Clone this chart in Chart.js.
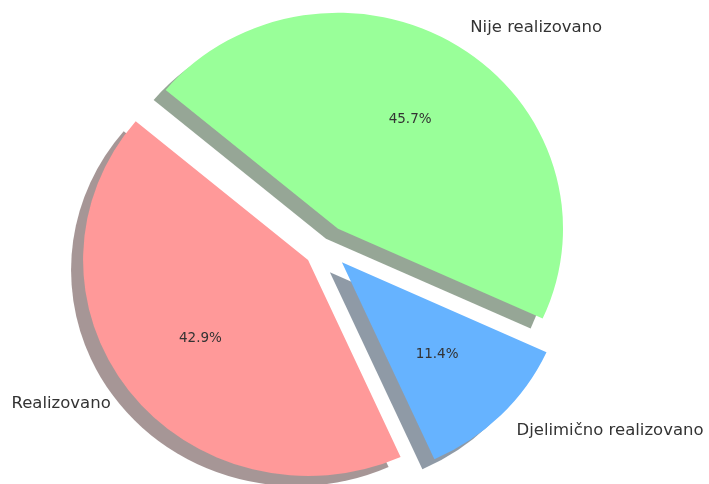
<!DOCTYPE html>
<html>
<head>
<meta charset="utf-8">
<script src="https://cdn.jsdelivr.net/npm/chart.js@4"></script>
<style>
  html, body { margin: 0; padding: 0; background: #fff; }
  canvas { display: block; }
</style>
</head>
<body>
<canvas id="chartPie" width="709" height="484"></canvas>
<script>
// Datos (en sentido horario, empezando arriba a la izquierda)
const categorias = ['Nije realizovano', 'Djelimično realizovano', 'Realizovano'];
const valores = [16, 4, 15];
const colores = ['#99ff99', '#66b3ff', '#ff9999'];

const RADIO = 225;           // radio horizontal en px
const ESCALA_Y = 216 / 225;  // la tarta sale algo achatada
const EXPLODE = 0.1;
const SOMBRA = { x: -12, y: 10 };

function centro(chart) {
    const a = chart.chartArea;
    return { x: (a.left + a.right) / 2, y: (a.top + a.bottom) / 2 };
}

function aplicarElipse(ctx, c) {
    ctx.translate(c.x, c.y);
    ctx.scale(1, ESCALA_Y);
    ctx.translate(-c.x, -c.y);
}

// Sombra: color oscurecido con transparencia
function colorSombra(hex) {
    const n = parseInt(hex.slice(1), 16);
    const r = (n >> 16) & 255, g = (n >> 8) & 255, b = n & 255;
    return `rgba(${Math.round(r * 0.3)}, ${Math.round(g * 0.3)}, ${Math.round(b * 0.3)}, 0.5)`;
}

const pluginTarta = {
    id: 'tartaSeparada',
    afterUpdate(chart) {
        // Separar cada porción del centro
        const c = centro(chart);
        chart.getDatasetMeta(0).data.forEach(arc => {
            const mid = (arc.startAngle + arc.endAngle) / 2;
            arc.x = c.x + Math.cos(mid) * EXPLODE * arc.outerRadius;
            arc.y = c.y + Math.sin(mid) * EXPLODE * arc.outerRadius;
        });
    },
    beforeDatasetsDraw(chart) {
        const ctx = chart.ctx;
        const c = centro(chart);

        // Sombras detrás de todas las porciones
        ctx.save();
        ctx.translate(SOMBRA.x, SOMBRA.y);
        aplicarElipse(ctx, c);
        chart.getDatasetMeta(0).data.forEach((arc, i) => {
            ctx.beginPath();
            ctx.moveTo(arc.x, arc.y);
            ctx.arc(arc.x, arc.y, arc.outerRadius, arc.startAngle, arc.endAngle);
            ctx.closePath();
            ctx.fillStyle = colorSombra(colores[i]);
            ctx.fill();
        });
        ctx.restore();

        ctx.save();
        aplicarElipse(ctx, c);
    },
    afterDatasetsDraw(chart) {
        const ctx = chart.ctx;
        ctx.restore();

        const c = centro(chart);
        const total = valores.reduce((s, v) => s + v, 0);
        ctx.save();
        ctx.fillStyle = '#333';
        ctx.textBaseline = 'middle';
        chart.getDatasetMeta(0).data.forEach((arc, i) => {
            const mid = (arc.startAngle + arc.endAngle) / 2;
            const dx = Math.cos(mid) * arc.outerRadius;
            const dy = Math.sin(mid) * arc.outerRadius * ESCALA_Y;

            // Etiqueta exterior
            ctx.font = '16.5px "DejaVu Sans"';
            ctx.textAlign = dx > 0 ? 'left' : 'right';
            ctx.fillText(categorias[i], c.x + dx * (1.1 + EXPLODE), c.y + dy * (1.1 + EXPLODE));

            // Porcentaje
            ctx.font = '13.5px "DejaVu Sans"';
            ctx.textAlign = 'center';
            const pct = (valores[i] / total * 100).toFixed(1) + '%';
            ctx.fillText(pct, c.x + dx * (0.6 + EXPLODE), c.y + dy * (0.6 + EXPLODE));
        });
        ctx.restore();
    }
};

const ctx = document.getElementById('chartPie').getContext('2d');
new Chart(ctx, {
    type: 'pie',
    data: {
        labels: categorias,
        datasets: [{
            data: valores,
            backgroundColor: colores,
            borderWidth: 0,
            clip: false
        }]
    },
    options: {
        responsive: false,
        animation: false,
        events: [],
        rotation: -50,
        radius: RADIO,
        layout: {
            padding: { left: 0, right: 57, top: 10, bottom: 0 }
        },
        plugins: {
            legend: { display: false },
            tooltip: { enabled: false }
        }
    },
    plugins: [pluginTarta]
});
</script>
</body>
</html>
